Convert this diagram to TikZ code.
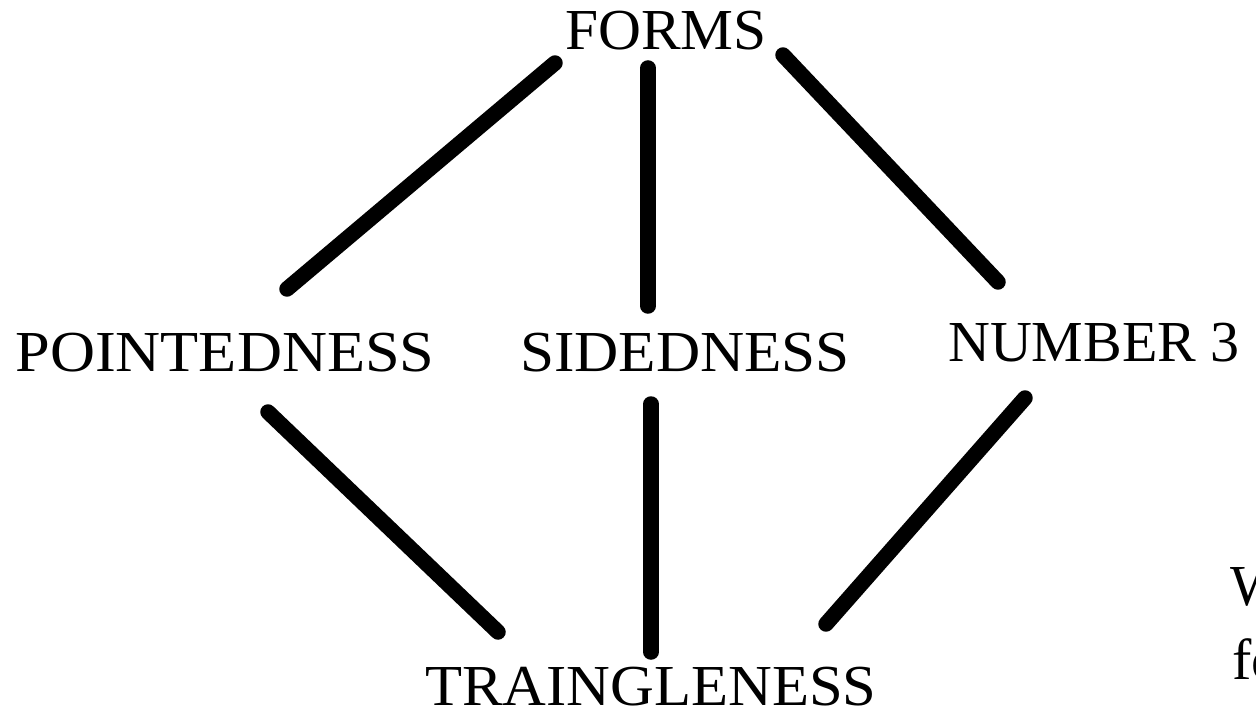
\documentclass[tikz,border=0pt]{standalone}
\usepackage{fontspec}
\setmainfont{Liberation Serif}
\begin{document}
\begin{tikzpicture}[x=1pt,y=-1pt,
  lbl/.style={inner sep=0pt,anchor=base,font=\fontsize{58}{60}\selectfont,transform shape},
  edge/.style={line width=15.5pt,line cap=round,black}]
\clip (0,0) rectangle (1256,714);
\node[lbl,xscale=1.025] (forms) at (666,50) {FORMS};
\node[lbl,xscale=1.075] (point) at (225,371) {POINTEDNESS};
\node[lbl,xscale=1.055] (sided) at (685,371) {SIDEDNESS};
\node[lbl,xscale=1.0] (num) at (1094,361) {NUMBER 3};
\node[lbl,xscale=1.045] (tri) at (651,705) {TRAINGLENESS};
\node[lbl,anchor=base west] (w) at (1230,605) {W};
\node[lbl,anchor=base west] (fo) at (1232,679) {fo};
\coordinate (a1) at (555,63);  \coordinate (a2) at (287,289);
\coordinate (b1) at (648,68);  \coordinate (b2) at (648,306);
\coordinate (c1) at (783,55);  \coordinate (c2) at (998,282);
\coordinate (d1) at (268,412); \coordinate (d2) at (498,632);
\coordinate (e1) at (651,404); \coordinate (e2) at (651,652);
\coordinate (f1) at (1025,398);\coordinate (f2) at (826,624);
\draw[edge] (a1) -- (a2);
\draw[edge] (b1) -- (b2);
\draw[edge] (c1) -- (c2);
\draw[edge] (d1) -- (d2);
\draw[edge] (e1) -- (e2);
\draw[edge] (f1) -- (f2);
\end{tikzpicture}
\end{document}
